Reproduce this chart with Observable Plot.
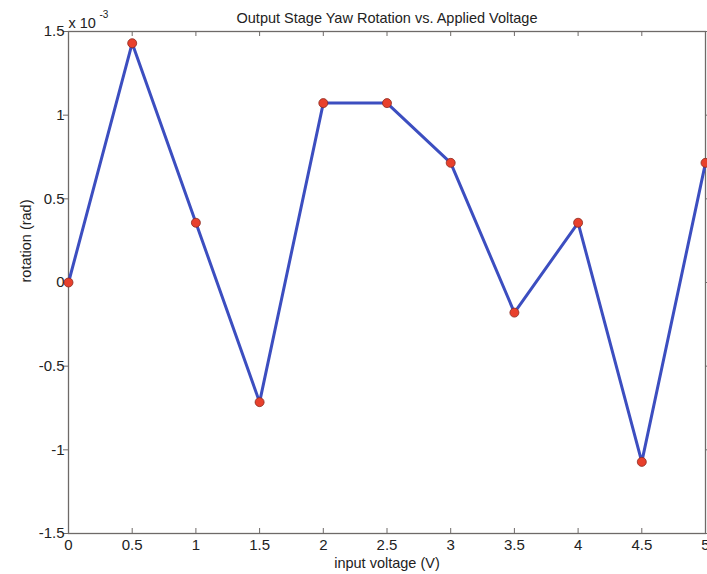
<!DOCTYPE html>
<html>
<head>
<meta charset="utf-8">
<script src="https://cdn.jsdelivr.net/npm/d3@7"></script>
<script src="https://cdn.jsdelivr.net/npm/@observablehq/plot@0.6"></script>
<style>
  html, body { margin: 0; padding: 0; background: #fff; }
  #chart svg { display: block; }
</style>
</head>
<body>
<div id="chart"></div>
<script>
const voltages = [0, 0.5, 1, 1.5, 2, 2.5, 3, 3.5, 4, 4.5, 5];
const rotations = [0, 1.43, 0.357, -0.715, 1.072, 1.072, 0.715, -0.18, 0.357, -1.072, 0.715]; // x 10^-3 rad
const xTicks = [0, 0.5, 1, 1.5, 2, 2.5, 3, 3.5, 4, 4.5, 5];
const yTicks = [-1.5, -1, -0.5, 0, 0.5, 1, 1.5];
const titleText = "Output Stage Yaw Rotation vs. Applied Voltage";
const xLabel = "input voltage (V)";
const yLabel = "rotation (rad)";

const data = voltages.map((v, i) => ({v, r: rotations[i]}));
const axisColor = "#6e6a68";
const font = "'Liberation Sans', Arial, sans-serif";

const chart = Plot.plot({
  width: 707,
  height: 574,
  marginLeft: 68,
  marginRight: 2,
  marginTop: 31,
  marginBottom: 41,
  style: {fontFamily: font, fontSize: "15px", color: "#222", background: "#fff", overflow: "visible"},
  x: {domain: [0, 5]},
  y: {domain: [-1.5, 1.5]},
  marks: [
    Plot.frame({stroke: axisColor, strokeWidth: 1.3}),
    // inward ticks
    Plot.ruleX(xTicks, {x: d => d, y1: -1.5, y2: -1.5, insetBottom: 5, insetTop: 0, stroke: axisColor}),
    Plot.ruleX(xTicks, {x: d => d, y1: 1.5, y2: 1.5, insetTop: 5, insetBottom: 0, stroke: axisColor}),
    Plot.ruleY(yTicks, {y: d => d, x1: 0, x2: 0, insetRight: 5, insetLeft: 0, stroke: axisColor}),
    Plot.ruleY(yTicks, {y: d => d, x1: 5, x2: 5, insetLeft: 5, insetRight: 0, stroke: axisColor}),
    Plot.axisX(xTicks, {tickSize: 0, tickPadding: 6, label: null, fontSize: 15, fill: "#222", tickFormat: d => String(d)}),
    Plot.axisY(yTicks, {tickSize: 0, tickPadding: 4, label: null, fontSize: 15, fill: "#222", tickFormat: d => String(d)}),
    Plot.line(data, {x: "v", y: "r", stroke: "#3c4ec0", strokeWidth: 3}),
    Plot.dot(data, {x: "v", y: "r", r: 4.5, fill: "#e8402c", stroke: "#8a2a20", strokeWidth: 0.8}),
    Plot.text([titleText], {frameAnchor: "top", dy: -19, text: d => d, fontSize: 14.5, fill: "#222"}),
    Plot.text([xLabel], {frameAnchor: "bottom", dy: 34, text: d => d, fontSize: 14.5, fill: "#222"}),
    Plot.text([yLabel], {frameAnchor: "left", dx: -42, rotate: -90, text: d => d, fontSize: 14.5, fill: "#222"}),
    Plot.text(["x 10"], {frameAnchor: "top-left", dx: 0, dy: -14, textAnchor: "start", text: d => d, fontSize: 14.5, fill: "#222"}),
    Plot.text(["-3"], {frameAnchor: "top-left", dx: 31, dy: -21, textAnchor: "start", text: d => d, fontSize: 10, fill: "#222"})
  ]
});
document.getElementById("chart").appendChild(chart);
</script>
</body>
</html>
